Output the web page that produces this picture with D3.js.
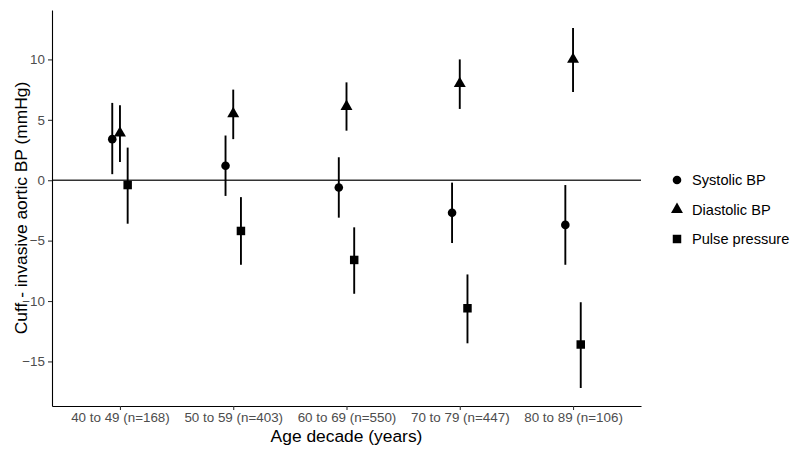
<!DOCTYPE html>
<html>
<head>
<meta charset="utf-8">
<script src="https://cdn.jsdelivr.net/npm/d3@7"></script>
<style>
  body { margin: 0; background: #fff; }
  svg { font-family: "Liberation Sans", Arial, sans-serif; }
</style>
</head>
<body>
<div id="chart"></div>
<script>
const WIDTH = 800;
const HEIGHT = 453;

// categories and series
var ageGroups = ["40 to 49 (n=168)", "50 to 59 (n=403)", "60 to 69 (n=550)", "70 to 79 (n=447)", "80 to 89 (n=106)"];
var seriesNames = ["Systolic BP", "Diastolic BP", "Pulse pressure"];

var systolicMean  = [3.4, 1.2, -0.6, -2.7, -3.7];
var systolicLow   = [0.5, -1.3, -3.1, -5.2, -7.0];
var systolicHigh  = [6.4, 3.7, 1.9, -0.2, -0.4];

var diastolicMean = [3.9, 5.5, 6.1, 8.0, 10.0];
var diastolicLow  = [1.5, 3.4, 4.1, 5.9, 7.3];
var diastolicHigh = [6.2, 7.5, 8.1, 10.0, 12.6];

var pulseMean     = [-0.4, -4.2, -6.6, -10.6, -13.6];
var pulseLow      = [-3.6, -7.0, -9.4, -13.5, -17.2];
var pulseHigh     = [2.7, -1.4, -3.9, -7.8, -10.1];

var yTicks = [-15, -10, -5, 0, 5, 10];

var margin = { left: 52, right: 159, top: 10, bottom: 47 };
var plotW = WIDTH - margin.left - margin.right;
var plotH = HEIGHT - margin.top - margin.bottom;

var svg = d3.select("#chart").append("svg")
    .attr("width", WIDTH)
    .attr("height", HEIGHT);

var g = svg.append("g")
    .attr("transform", "translate(" + margin.left + "," + margin.top + ")");

var x = d3.scalePoint()
    .domain(ageGroups)
    .range([0, plotW])
    .padding(0.6);

// dodge offsets in category units
var dodge = d3.scalePoint().domain(seriesNames).range([-0.068, 0.068]);

var allVals = [].concat(systolicLow, systolicHigh, diastolicLow, diastolicHigh, pulseLow, pulseHigh);
var ext = d3.extent(allVals);
var pad = (ext[1] - ext[0]) * 0.05;
var y = d3.scaleLinear()
    .domain([ext[0] - pad, ext[1] + pad])
    .range([plotH, 0]);

var data = [];
var sets = [
  [systolicMean, systolicLow, systolicHigh],
  [diastolicMean, diastolicLow, diastolicHigh],
  [pulseMean, pulseLow, pulseHigh]
];
seriesNames.forEach((s, si) => {
  ageGroups.forEach((a, i) => {
    data.push({ series: s, group: a, mean: sets[si][0][i], low: sets[si][1][i], high: sets[si][2][i] });
  });
});

var px = d => x(d.group) + dodge(d.series) * x.step();

// zero reference line
g.append("line")
    .attr("x1", 0).attr("x2", plotW)
    .attr("y1", y(0)).attr("y2", y(0))
    .attr("stroke", "#333")
    .attr("stroke-width", 1.6);

// axes
var yAxis = g.append("g")
    .call(d3.axisLeft(y).tickValues(yTicks).tickSize(4).tickSizeOuter(0).tickPadding(3));
var xAxis = g.append("g")
    .attr("transform", "translate(0," + plotH + ")")
    .call(d3.axisBottom(x).tickSize(4).tickSizeOuter(0).tickPadding(2));

[xAxis, yAxis].forEach(ax => {
  ax.select(".domain").attr("stroke", "#000").attr("stroke-width", 1.1);
  ax.selectAll(".tick line").attr("stroke", "#333").attr("stroke-width", 1.1);
  ax.selectAll(".tick text")
    .attr("fill", "#4d4d4d")
    .style("font-size", "13.4px")
    .style("font-family", "'Liberation Sans', Arial, sans-serif");
});

// error bars
g.selectAll(".err")
    .data(data)
    .enter().append("line")
    .attr("class", "err")
    .attr("x1", px).attr("x2", px)
    .attr("y1", d => y(d.low)).attr("y2", d => y(d.high))
    .attr("stroke", "#000")
    .attr("stroke-width", 1.9);

var shapes = {
  "Systolic BP": d3.symbol().type(d3.symbolCircle).size(58),
  "Diastolic BP": d3.symbol().type(d3.symbolTriangle).size(62),
  "Pulse pressure": d3.symbol().type(d3.symbolSquare).size(72)
};

g.selectAll(".pt")
    .data(data)
    .enter().append("path")
    .attr("class", "pt")
    .attr("d", d => shapes[d.series]())
    .attr("transform", d => "translate(" + px(d) + "," + y(d.mean) + ")")
    .attr("fill", "#000");

// axis titles
svg.append("text")
    .attr("x", margin.left + plotW / 2)
    .attr("y", 442)
    .attr("text-anchor", "middle")
    .style("font-size", "17.4px")
    .text("Age decade (years)");

svg.append("text")
    .attr("transform", "translate(27," + (margin.top + plotH / 2) + ") rotate(-90)")
    .attr("text-anchor", "middle")
    .style("font-size", "17.4px")
    .text("Cuff - invasive aortic BP (mmHg)");

// legend
var legend = svg.append("g").attr("transform", "translate(677,180)");
var items = legend.selectAll(".item")
    .data(seriesNames)
    .enter().append("g")
    .attr("transform", (d, i) => "translate(0," + i * 29.5 + ")");
items.append("path")
    .attr("d", d => shapes[d]())
    .attr("fill", "#000");
items.append("text")
    .attr("x", 15)
    .attr("dy", "0.35em")
    .style("font-size", "14.6px")
    .text(d => d);
</script>
</body>
</html>
